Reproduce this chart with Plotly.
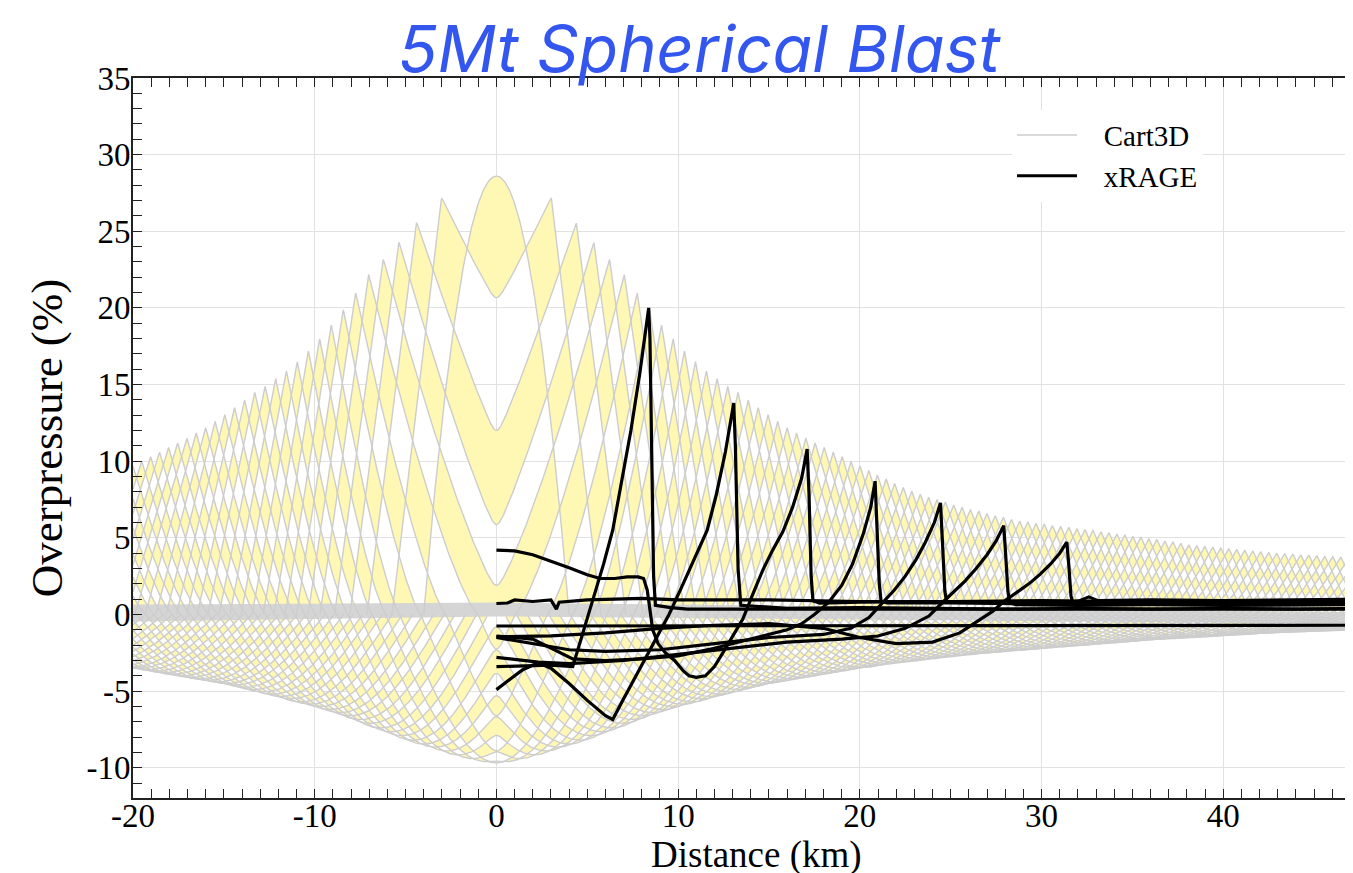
import numpy as np
import plotly.graph_objects as go

# ---------------- Cart3D snapshots (tips of the lens pattern) ----------------
cart_r = [0.00, 3.03, 4.40, 5.37, 6.23, 7.04, 7.75, 8.43, 9.09, 9.73,
          10.35, 10.96, 11.56, 12.15, 12.73, 13.30, 13.86, 14.41, 14.95, 15.48,
          16.00, 16.52, 17.03, 17.54, 18.04, 18.54, 19.03, 19.52, 20.01, 20.49,
          20.97, 21.45, 21.92, 22.39, 22.86, 23.33, 23.79, 24.25, 24.71, 25.17,
          25.63, 26.09, 26.55, 27.00, 27.45, 27.90, 28.35, 28.80, 29.25, 29.70,
          30.15, 30.60, 31.05, 31.50, 31.95, 32.39, 32.83, 33.27, 33.71, 34.15,
          34.59, 35.03, 35.47, 35.91, 36.35, 36.79, 37.23, 37.67, 38.11, 38.55,
          38.99, 39.43, 39.87, 40.31, 40.75, 41.19, 41.63, 42.07, 42.51, 42.95,
          43.39, 43.83, 44.27, 44.71, 45.15, 45.59, 46.03, 46.47, 46.91, 47.35,
          47.79, 48.23, 48.67, 49.11, 49.55, 49.99, 50.43, 50.87, 51.31, 51.75,
          52.19, 52.63, 53.07, 53.51, 53.95, 54.39, 54.83, 55.27]
cart_peak = [28.6, 27.2, 25.6, 24.3, 23.2, 22.2, 21.0, 19.9, 18.9, 18.0,
             17.2, 16.5, 15.9, 15.4, 14.9, 14.5, 14.0, 13.5, 13.05, 12.6,
             12.2, 11.85, 11.5, 11.2, 10.9, 10.6, 10.3, 10.0, 9.7, 9.4,
             9.1, 8.85, 8.55, 8.3, 8.05, 7.85, 7.65, 7.5, 7.35, 7.15,
             7.0, 6.85, 6.75, 6.6, 6.45, 6.35, 6.2, 6.1, 6.05, 5.95,
             5.9, 5.8, 5.75, 5.7, 5.6, 5.55, 5.5, 5.4, 5.35, 5.25,
             5.2, 5.1, 5.05, 4.95, 4.9, 4.8, 4.75, 4.65, 4.55, 4.5,
             4.45, 4.4, 4.35, 4.3, 4.25, 4.2, 4.15, 4.1, 4.05, 4.0,
             3.98, 3.95, 3.9, 3.88, 3.85, 3.8, 3.78, 3.75, 3.7, 3.68,
             3.65, 3.62, 3.6, 3.57, 3.55, 3.5, 3.48, 3.45, 3.43, 3.4,
             3.38, 3.35, 3.33, 3.3, 3.28, 3.25, 3.22, 3.2]
cart_trough = [9.8, 9.8, 9.8, 9.8, 9.8, 9.8, 9.8, 9.8, 9.75, 9.6,
               9.4, 9.15, 8.9, 8.65, 8.45, 8.2, 7.9, 7.65, 7.4, 7.1,
               6.85, 6.6, 6.4, 6.2, 6.0, 5.85, 5.7, 5.5, 5.35, 5.2,
               5.05, 4.9, 4.75, 4.6, 4.5, 4.4, 4.3, 4.2, 4.1, 4.0,
               3.9, 3.8, 3.7, 3.6, 3.5, 3.45, 3.35, 3.27, 3.2, 3.13,
               3.07, 3.0, 2.93, 2.87, 2.8, 2.74, 2.68, 2.62, 2.57, 2.52,
               2.47, 2.43, 2.38, 2.34, 2.3, 2.25, 2.2, 2.16, 2.12, 2.08,
               2.03, 1.99, 1.94, 1.9, 1.86, 1.81, 1.77, 1.72, 1.68, 1.64,
               1.6, 1.58, 1.55, 1.52, 1.49, 1.46, 1.42, 1.39, 1.36, 1.33,
               1.29, 1.26, 1.23, 1.21, 1.18, 1.16, 1.14, 1.12, 1.10, 1.08,
               1.06, 1.04, 1.02, 1.0, 0.98, 0.95, 0.93, 0.9]

# pulse-shape knots (styling of each Cart3D snapshot)
lp_knot_r = [3.03, 4.40, 5.37, 6.23, 7.04, 8.0, 9.0, 11.0, 16.0, 25.0, 40.0, 56.0]
lp_knot_v = [14.6, 9.4, 7.7, 7.0, 6.0, 4.6, 3.8, 3.4, 3.3, 3.0, 2.6, 2.3]
kf_knot_r = [0, 3, 9, 17, 30, 56]
kf_knot_v = [7, 10, 7.5, 4.0, 2.8, 2.3]
wn_knot_r = [0, 10, 20, 56]
wn_knot_v = [10, 11, 10, 8]

# gray band where all Cart3D curves sit near zero
band_x = [-20.0, 0.0, 47.14]
band_top = [0.65, 0.78, 0.15]
band_bottom = [-0.45, -0.13, -0.6]

# ---------------- xRAGE curves ----------------
xr1_x = [0, 1.5, 3.0, 4.2, 4.8, 5.3, 5.9, 6.4, 6.9, 7.4, 7.9, 8.2, 8.38, 8.45, 8.55, 8.65, 8.75,
         9.6, 10.5, 14, 20, 26, 32.6, 33.2, 40, 47.14]
xr1_y = [-3.4, -3.35, -3.3, -3.4, -1.0, 0.9, 3.3, 5.5, 8.7, 12.0, 15.8, 18.6, 20.0, 18.0, 10.0, 2.5, 0.6,
         0.45, 0.35, 0.35, 0.35, 0.3, 0.35, 0.3, 0.35, 0.35]
xr2_x = [0, 0.8, 1.45, 2.3, 3.0, 4.0, 5.0, 6.0, 6.4, 7.0, 7.6, 8.2, 8.8, 9.5, 10.2, 10.9, 11.6, 12.1, 12.6,
         13.06, 13.15, 13.3, 13.45, 16, 20, 24, 28, 32, 36, 40, 44, 47.14]
xr2_y = [-4.9, -4.2, -3.6, -3.15, -3.5, -4.5, -5.6, -6.6, -6.85, -5.5, -4.2, -2.9, -1.6, 0.0, 1.8, 3.6, 5.5, 7.8, 10.6,
         13.8, 11.0, 3.0, 0.6, 0.4, 0.45, 0.4, 0.35, 0.4, 0.35, 0.4, 0.35, 0.4]
xr3_x = [0, 1, 2, 3, 4, 5, 5.7, 6.5, 7.2, 7.8, 8.1, 8.3, 8.45, 8.6, 8.9, 9.3, 9.8, 10.3, 10.6, 11.0, 11.5,
         12.0, 12.46, 13.0, 13.56, 14.1, 14.66, 15.2, 15.76, 16.3, 16.8, 17.1, 17.2, 17.32, 17.42, 17.8,
         20, 25, 30, 35, 40, 47.14]
xr3_y = [4.2, 4.15, 3.9, 3.5, 3.05, 2.6, 2.35, 2.35, 2.45, 2.45, 2.35, 1.6, 0.2, -1.0, -1.9, -2.5, -3.0, -3.7, -4.0, -4.1, -4.0,
         -3.4, -2.5, -1.4, -0.3, 1.3, 2.9, 4.2, 5.4, 7.0, 8.9, 10.8, 8.0, 2.5, 0.9, 0.75,
         0.8, 0.85, 0.8, 0.85, 0.8, 0.85]
xr4_x = [0, 2, 4.2, 6, 8, 10, 12, 14, 16, 16.8, 17.5, 18.0, 18.33, 19.0, 19.6, 20.2, 20.6, 20.84, 20.95, 21.07,
         21.17, 21.5, 25, 30, 35, 40, 47.14]
xr4_y = [-1.4, -1.6, -2.9, -3.0, -2.9, -2.7, -2.2, -1.6, -1.0, -0.6, 0.0, 0.5, 0.87, 1.9, 3.3, 5.3, 7.0, 8.7, 6.0, 2.0,
         0.87, 0.75, 0.75, 0.7, 0.75, 0.7, 0.8]
xr5_x = [0, 2, 4, 6, 9, 12, 15, 18, 19.5, 20.5, 21.26, 21.9, 22.5, 23.1, 23.6, 24.1, 24.44, 24.55, 24.68, 24.78,
         25.2, 30, 35, 40, 47.14]
xr5_y = [-1.5, -1.9, -2.3, -2.4, -2.3, -1.9, -1.5, -1.3, -0.9, -0.2, 0.8, 1.6, 2.5, 3.6, 4.7, 6.0, 7.28, 5.0, 1.5, 0.8,
         0.85, 0.9, 0.85, 0.9, 0.9]
xr6_x = [0, 2.3, 4, 7, 10, 13, 16, 19, 21, 22.5, 23.8, 24.56, 25.2, 25.8, 26.4, 27.0, 27.5, 27.92, 28.02, 28.15,
         28.25, 28.6, 32, 36, 40, 47.14]
xr6_y = [-2.8, -3.1, -3.2, -3.0, -2.6, -2.2, -1.8, -1.6, -1.4, -0.9, -0.1, 0.8, 1.5, 2.2, 3.0, 3.9, 4.8, 5.8, 4.0, 1.5,
         0.75, 0.65, 0.6, 0.65, 0.6, 0.65]
xr7_x = [0, 3, 6, 9, 12, 15, 18, 20, 22, 24, 25.5, 26.8, 27.3, 27.87, 28.6, 29.3, 29.9, 30.5, 31.0, 31.39, 31.5,
         31.62, 31.72, 32.1, 32.6, 33.1, 36, 40, 44, 47.14]
xr7_y = [-1.45, -1.4, -1.2, -0.9, -0.7, -0.6, -0.9, -1.5, -1.9, -1.8, -1.2, -0.2, 0.2, 0.8, 1.4, 2.0, 2.6, 3.3, 4.0, 4.72, 3.2,
         1.2, 0.8, 0.9, 1.15, 0.9, 0.95, 0.9, 0.95, 1.0]
xr8_x = [0, 0.6, 1.0, 2.0, 3.0, 3.3, 3.45, 5, 8, 10, 15, 20, 25, 30, 35, 40, 45, 47.14]
xr8_y = [0.72, 0.75, 0.95, 0.85, 0.95, 0.35, 0.8, 0.95, 1.05, 0.95, 0.95, 0.85, 0.85, 0.8, 0.8, 0.85, 0.9, 0.95]
xr9_x = [0, 47.14]
xr9_y = [-0.75, -0.7]

xrage_curves = [(xr1_x, xr1_y), (xr2_x, xr2_y), (xr3_x, xr3_y), (xr4_x, xr4_y), (xr5_x, xr5_y),
                (xr6_x, xr6_y), (xr7_x, xr7_y), (xr8_x, xr8_y), (xr9_x, xr9_y)]

x_tick_vals = [-20, -10, 0, 10, 20, 30, 40]
x_tick_text = ['-20', '-10', '0', '10', '20', '30', '40']
y_tick_vals = [-10, -5, 0, 5, 10, 15, 20, 25, 30, 35]
y_tick_text = ['-10', '-5', '0', '5', '10', '15', '20', '25', '30', '35']

X_MIN, X_MAX = -20.0, 47.14
STEP = 0.04
EPS = 0.25


def cart_profile(x, r, H, N):
    """Overpressure of one Cart3D snapshot (symmetric about x = 0)."""
    Lp = float(np.interp(r, lp_knot_r, lp_knot_v))
    kf = float(np.interp(r, kf_knot_r, kf_knot_v))
    Wn = float(np.interp(r, wn_knot_r, wn_knot_v))
    if r == 0:
        s = np.abs(x)
        dl = 4.0
        return np.where(s < dl, H * (1 - (s / dl) ** 2), 0.0), dl, 0.0
    s = np.sqrt(x * x + EPS * EPS)
    dl = H / kf
    d = r - s
    p = np.zeros_like(x)
    fr = d < 0
    p[fr] = H * np.clip(1 + d[fr] / dl, 0, None)
    tl = (d >= 0) & (d <= Lp)
    p[tl] = H * (1 - d[tl] / Lp) ** 1.3
    ng = (d > Lp) & (d < Lp + Wn)
    p[ng] = -N * np.sin(np.pi * (d[ng] - Lp) / Wn)
    return p, dl, Lp + Wn


fill_x, fill_y, line_x, line_y = [], [], [], []
for i, (r, H, N) in enumerate(zip(cart_r, cart_peak, cart_trough)):
    _, dl, back = cart_profile(np.array([0.0]), r, H, N)
    outer = r + dl
    inner = r - back
    if inner <= 0:
        spans = [(-outer, outer)]
    else:
        spans = [(-outer, -inner), (inner, outer)]
    for a, b in spans:
        a, b = max(a, X_MIN), min(b, X_MAX)
        if b <= a:
            continue
        xs = np.concatenate([np.arange(a, b, STEP), [b], [v for v in (-r, r) if a < v < b]])
        xs = np.unique(np.round(xs, 4))
        ps, _, _ = cart_profile(xs, r, H, N)
        px = np.concatenate([[a], xs, [b]])
        py = np.concatenate([[0.0], ps, [0.0]])
        lx, ly = list(np.round(xs, 3)), list(np.round(ps, 3))
        if i % 2 == 1:
            px, py = px[::-1], py[::-1]
        fill_x += list(np.round(px, 3)) + [None]
        fill_y += list(np.round(py, 3)) + [None]
        line_x += lx + [None]
        line_y += ly + [None]

fig = go.Figure()
fig.add_trace(go.Scatter(x=fill_x, y=fill_y, mode='lines', fill='toself', fillcolor='#fff8b4',
                         line=dict(width=0, color='rgba(0,0,0,0)'), hoverinfo='skip', showlegend=False))
fig.add_trace(go.Scatter(x=band_x + band_x[::-1], y=band_top + band_bottom[::-1], mode='lines', fill='toself',
                         fillcolor='#d5d5d5', line=dict(width=0), hoverinfo='skip', showlegend=False))
fig.add_trace(go.Scatter(x=line_x, y=line_y, mode='lines', name='\u00a0\u00a0\u00a0Cart3D',
                         line=dict(color='#cdcdcd', width=1.4), hoverinfo='skip'))
for k, (cx, cy) in enumerate(xrage_curves):
    fig.add_trace(go.Scatter(x=cx, y=cy, mode='lines', name='\u00a0\u00a0\u00a0xRAGE', legendgroup='xrage',
                             showlegend=(k == 0), line=dict(color='black', width=3.2)))

serif = 'Liberation Serif'
axis_common = dict(showgrid=True, gridcolor='#e1e1e1', gridwidth=1, zeroline=False,
                   ticks='inside', ticklen=9, tickwidth=1.3, tickcolor='#222222',
                   showline=True, linecolor='#222222', linewidth=2,
                   tickfont=dict(family=serif, size=33, color='black'))
# The page adds an 8 px body margin, so the figure is 8 px smaller and margins are shifted by 8 px.
fig.update_layout(
    width=1345, height=865,
    margin=dict(l=125, r=0, t=70, b=75),
    paper_bgcolor='white', plot_bgcolor='white',
    title=dict(text='5Mt Spherical Blast', x=0.5138, xanchor='center', y=0.952, yanchor='middle',
               yref='container', font=dict(family='Inter', size=65, color='#3356ee', style='italic')),
    xaxis=dict(range=[X_MIN, X_MAX], tickmode='array', tickvals=x_tick_vals, ticktext=x_tick_text,
               mirror='allticks', ticklabelstandoff=-13, automargin=False,
               minor=dict(tickmode='linear', tick0=0, dtick=1, ticks='inside', ticklen=9,
                          tickwidth=1.3, tickcolor='#222222', showgrid=False),
               **axis_common),
    yaxis=dict(range=[-11.97, 35], tickmode='array', tickvals=y_tick_vals, ticktext=y_tick_text,
               ticklabelstandoff=-6,
               minor=dict(tickmode='linear', tick0=0, dtick=1, ticks='inside', ticklen=9,
                          tickwidth=1.3, tickcolor='#222222', showgrid=False),
               title=dict(text='Overpressure (%)', font=dict(family=serif, size=45, color='black'), standoff=10),
               **axis_common),
    legend=dict(x=0.7205, y=0.956, xanchor='left', yanchor='top', bgcolor='white', borderwidth=0,
                font=dict(family=serif, size=29, color='black'), itemwidth=60, tracegroupgap=0),
    annotations=[dict(text='Distance (km)', xref='paper', yref='paper', x=0.5107, y=-0.0795,
                      xanchor='center', yanchor='middle', showarrow=False,
                      font=dict(family=serif, size=37, color='black'))],
)

fig.write_html('out.html')
